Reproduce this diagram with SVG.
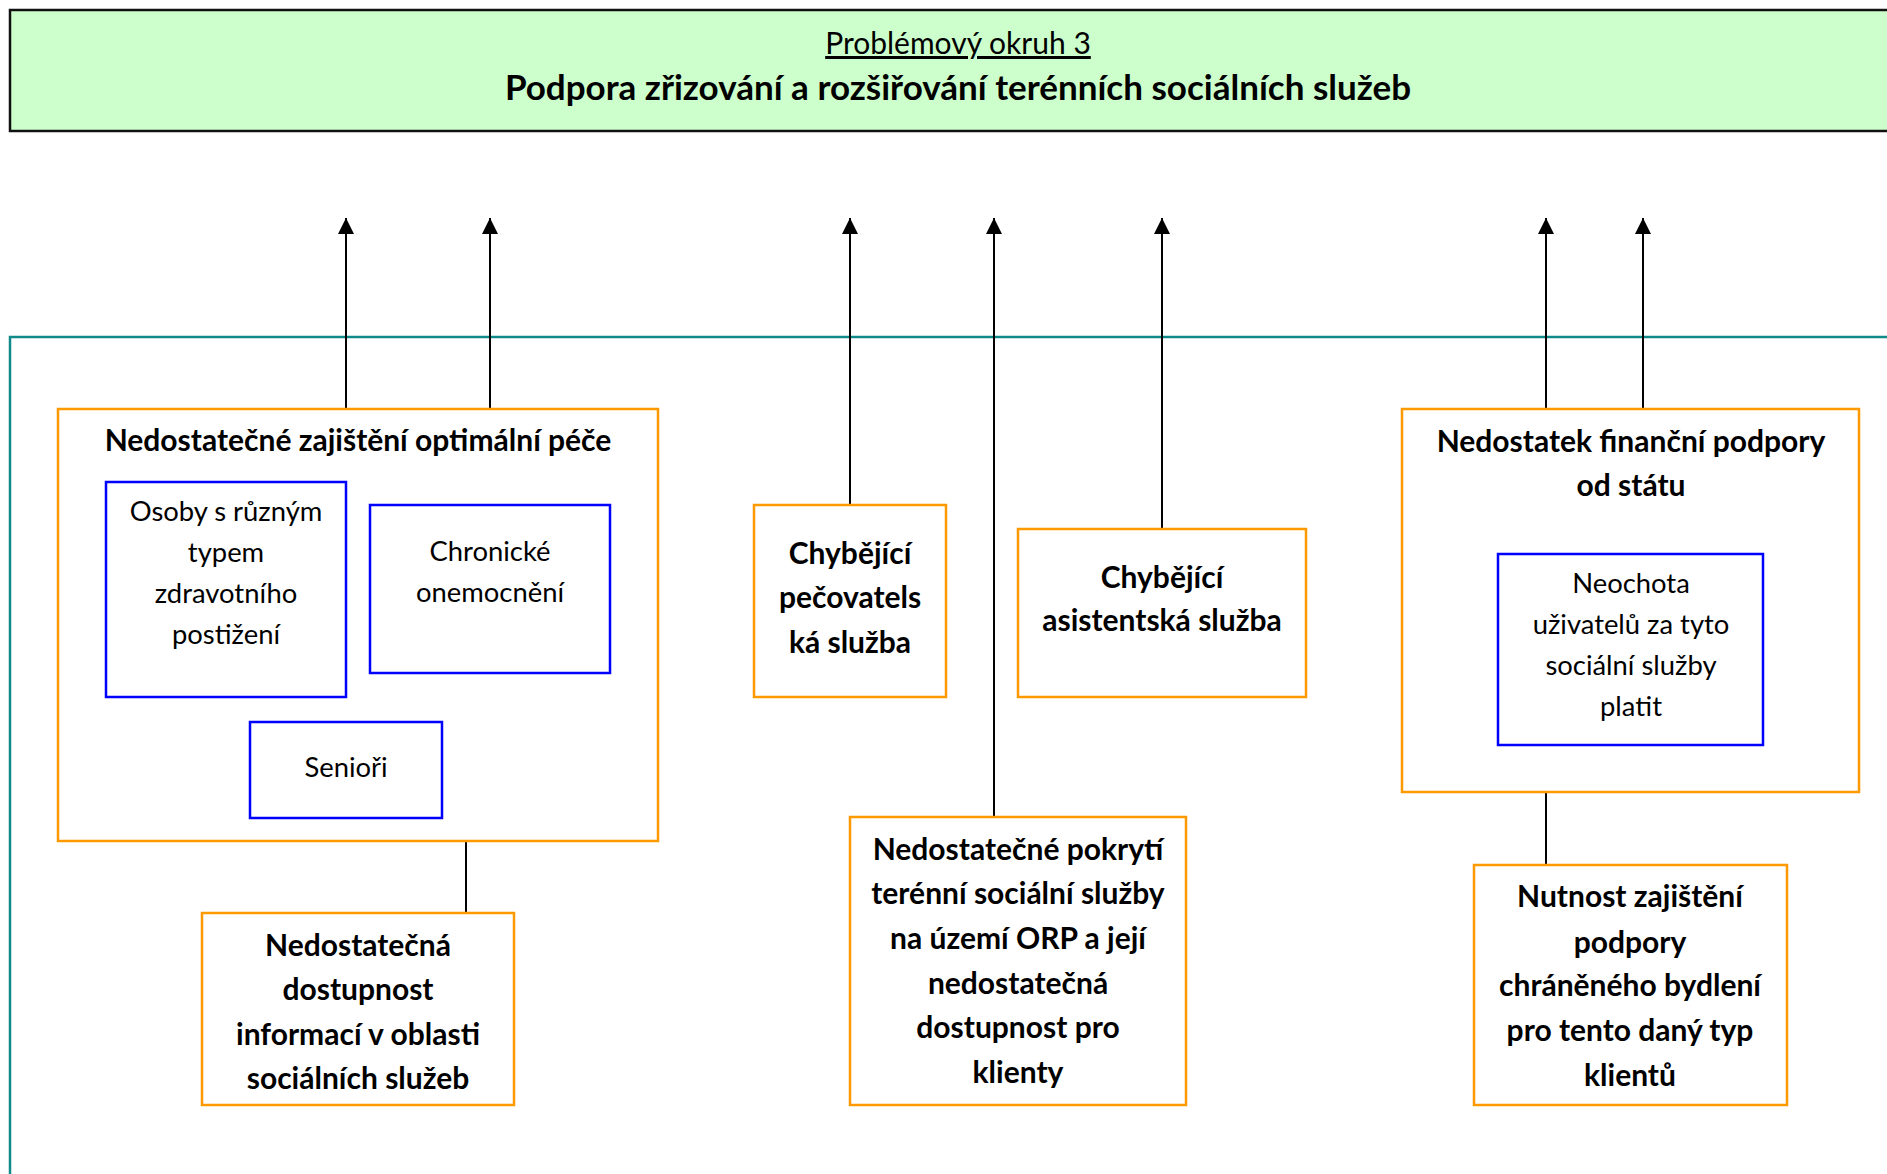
<svg xmlns="http://www.w3.org/2000/svg" width="1887" height="1174" viewBox="0 0 1887 1174">
<defs>
<marker id="arr" markerUnits="userSpaceOnUse" markerWidth="16" markerHeight="16" refX="16" refY="8" orient="auto">
<path d="M0,0 L16,8 L0,16 z" fill="#000"/>
</marker>
<style>
.or{fill:#fff;stroke:#FF9900;stroke-width:2.5}
.bl{fill:#fff;stroke:#0000FF;stroke-width:2.5}
.b{font-family:Lato,"Liberation Sans",sans-serif;font-weight:bold;font-size:30px;text-anchor:middle;fill:#000}
.r{font-family:Lato,"Liberation Sans",sans-serif;font-size:27.4px;text-anchor:middle;fill:#000}
.c{stroke:#000;stroke-width:2;fill:none}
</style>
</defs>
<rect width="1887" height="1174" fill="#fff"/>
<g id="header">
<rect x="10" y="10" width="1900" height="121" fill="#CCFFCC" stroke="#111" stroke-width="2.5"/>
<text x="958" y="54" class="r" style="font-size:30px" text-decoration="underline">Problémový okruh 3</text>
<text x="958" y="100" class="b" style="font-size:35px">Podpora zřizování a rozšiřování terénních sociálních služeb</text>
</g>
<g id="area">
<rect x="10" y="337" width="1900" height="900" fill="none" stroke="#108A88" stroke-width="2.5"/>
</g>
<g id="connectors">
<line class="c" x1="346" y1="409" x2="346" y2="218" marker-end="url(#arr)"/>
<line class="c" x1="490" y1="409" x2="490" y2="218" marker-end="url(#arr)"/>
<line class="c" x1="850" y1="505" x2="850" y2="218" marker-end="url(#arr)"/>
<line class="c" x1="994" y1="817" x2="994" y2="218" marker-end="url(#arr)"/>
<line class="c" x1="1162" y1="529" x2="1162" y2="218" marker-end="url(#arr)"/>
<line class="c" x1="1546" y1="409" x2="1546" y2="218" marker-end="url(#arr)"/>
<line class="c" x1="1643" y1="409" x2="1643" y2="218" marker-end="url(#arr)"/>
<line class="c" x1="466" y1="841" x2="466" y2="913"/>
<line class="c" x1="1546" y1="792" x2="1546" y2="865"/>
</g>
<g id="pece">
<rect class="or" x="58" y="409" width="600" height="432"/>
<text class="b" x="358" y="451">Nedostatečné zajištění optimální péče</text>
</g>
<g id="osoby">
<rect class="bl" x="106" y="482" width="240" height="215"/>
<text class="r" x="226" y="521">Osoby s různým</text>
<text class="r" x="226" y="562">typem</text>
<text class="r" x="226" y="603">zdravotního</text>
<text class="r" x="226" y="644">postižení</text>
</g>
<g id="chronicke">
<rect class="bl" x="370" y="505" width="240" height="168"/>
<text class="r" x="490" y="561">Chronické</text>
<text class="r" x="490" y="602">onemocnění</text>
</g>
<g id="seniori">
<rect class="bl" x="250" y="722" width="192" height="96"/>
<text class="r" x="346" y="777">Senioři</text>
</g>
<g id="informace">
<rect class="or" x="202" y="913" width="312" height="192"/>
<text class="b" x="358" y="956">Nedostatečná</text>
<text class="b" x="358" y="1000">dostupnost</text>
<text class="b" x="358" y="1045">informací v oblasti</text>
<text class="b" x="358" y="1089">sociálních služeb</text>
</g>
<g id="pecovatelska">
<rect class="or" x="754" y="505" width="192" height="192"/>
<text class="b" x="850" y="564">Chybějící</text>
<text class="b" x="850" y="608">pečovatels</text>
<text class="b" x="850" y="653">ká služba</text>
</g>
<g id="asistentska">
<rect class="or" x="1018" y="529" width="288" height="168"/>
<text class="b" x="1162" y="588">Chybějící</text>
<text class="b" x="1162" y="631">asistentská služba</text>
</g>
<g id="pokryti">
<rect class="or" x="850" y="817" width="336" height="288"/>
<text class="b" x="1018" y="860">Nedostatečné pokrytí</text>
<text class="b" x="1018" y="904">terénní sociální služby</text>
<text class="b" x="1018" y="949">na území ORP a její</text>
<text class="b" x="1018" y="994">nedostatečná</text>
<text class="b" x="1018" y="1038">dostupnost pro</text>
<text class="b" x="1018" y="1083">klienty</text>
</g>
<g id="financni">
<rect class="or" x="1402" y="409" width="457" height="383"/>
<text class="b" x="1631" y="452">Nedostatek finanční podpory</text>
<text class="b" x="1631" y="496">od státu</text>
</g>
<g id="neochota">
<rect class="bl" x="1498" y="554" width="265" height="191"/>
<text class="r" x="1631" y="593">Neochota</text>
<text class="r" x="1631" y="634">uživatelů za tyto</text>
<text class="r" x="1631" y="675">sociální služby</text>
<text class="r" x="1631" y="716">platit</text>
</g>
<g id="bydleni">
<rect class="or" x="1474" y="865" width="313" height="240"/>
<text class="b" x="1630" y="907">Nutnost zajištění</text>
<text class="b" x="1630" y="953">podpory</text>
<text class="b" x="1630" y="996">chráněného bydlení</text>
<text class="b" x="1630" y="1041">pro tento daný typ</text>
<text class="b" x="1630" y="1086">klientů</text>
</g>
</svg>
